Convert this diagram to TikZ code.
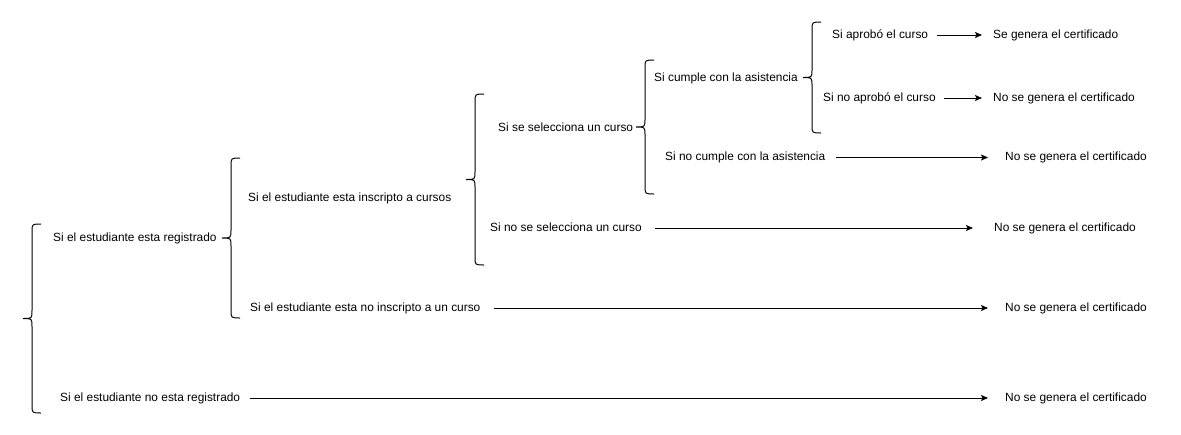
\documentclass[tikz,border=0pt]{standalone}
\usepackage{fontspec}
\setmainfont{Liberation Sans}
\usetikzlibrary{arrows.meta}
\tikzset{
  lbl/.style={anchor=west, inner sep=0pt, font=\fontsize{11.9}{13}\selectfont, text height=1.5ex, text depth=.25ex},
  arr/.style={-{Stealth[length=7pt,width=6pt,inset=1.5pt]}, line width=1pt},
  brc/.style={line width=1pt}
}
\newcommand\mybrace[4]{%
  \draw[brc] ({#2+9},#3) .. controls (#2,#3) .. (#2,{#3+8})
    -- (#2,{(#3+#4)/2-8}) .. controls (#2,{(#3+#4)/2}) .. ({#2-9},{(#3+#4)/2}) coordinate (#1)
    .. controls (#2,{(#3+#4)/2}) .. (#2,{(#3+#4)/2+8})
    -- (#2,{#4-8}) .. controls (#2,#4) .. ({#2+9},#4);
}
\begin{document}
\begin{tikzpicture}[x=1pt,y=-1pt]
\useasboundingbox (0,0) rectangle (1181,434);
\fill[white] (0,0) rectangle (1181,434);
% braces
\mybrace{b1}{32}{224}{413}
\mybrace{b2}{231}{158}{318}
\mybrace{b3}{475}{94}{265}
\mybrace{b4}{645}{60}{194}
\mybrace{b5}{812}{22}{133}
% labels
\node[lbl] (t1) at (53,238) {Si el estudiante esta registrado};
\node[lbl] (t2) at (60,398) {Si el estudiante no esta registrado};
\node[lbl] (t3) at (248,198) {Si el estudiante esta inscripto a cursos};
\node[lbl] (t4) at (250,308) {Si el estudiante esta no inscripto a un curso};
\node[lbl] (t5) at (498,128) {Si se selecciona un curso};
\node[lbl] (t6) at (490,228) {Si no se selecciona un curso};
\node[lbl] (t7) at (654,78) {Si cumple con la asistencia};
\node[lbl] (t8) at (665,157.5) {Si no cumple con la asistencia};
\node[lbl] (t9) at (832,35) {Si aprobó el curso};
\node[lbl] (t10) at (823,98) {Si no aprobó el curso};
\node[lbl] (r1) at (993,35) {Se genera el certificado};
\node[lbl] (r2) at (993,98) {No se genera el certificado};
\node[lbl] (r3) at (1005,157.5) {No se genera el certificado};
\node[lbl] (r4) at (994,228) {No se genera el certificado};
\node[lbl] (r5) at (1005,308) {No se genera el certificado};
\node[lbl] (r6) at (1005,398) {No se genera el certificado};
% arrows
\draw[arr, shorten <=9pt, shorten >=11pt] (t9.east) -- (r1.west);
\draw[arr, shorten <=8pt, shorten >=11pt] (t10.east) -- (r2.west);
\draw[arr, shorten <=11pt, shorten >=17pt] (t8.east) -- (r3.west);
\draw[arr, shorten <=13pt, shorten >=21pt] (t6.east) -- (r4.west);
\draw[arr, shorten <=13pt, shorten >=17pt] (t4.east) -- (r5.west);
\draw[arr, shorten <=10pt, shorten >=17pt] (t2.east) -- (r6.west);
\end{tikzpicture}
\end{document}
